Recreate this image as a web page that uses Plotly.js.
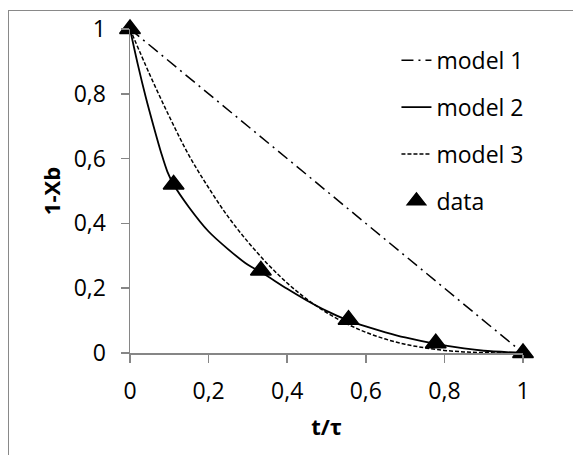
<!DOCTYPE html>
<html><head><meta charset="utf-8">
<script src="https://cdn.plot.ly/plotly-3.0.1.min.js"></script>
<style>
html,body{margin:0;padding:0;overflow:hidden;background:#fff;}
#wrap{position:relative;width:573px;height:455px;overflow:hidden;}
#chart{position:absolute;left:0;top:0;width:573px;height:455px;}
#frame{position:absolute;left:8px;top:10px;width:700px;height:600px;border:1.5px solid #898989;pointer-events:none;}
</style></head>
<body>
<div id="wrap"><div id="chart"></div><div id="frame"></div></div>
<script>
// Model 1 (linear)
const m1X = [0, 1];
const m1Y = [1, 0];
// Model 2 (solid curve)
const m2X = [0, 0.02, 0.04, 0.06, 0.08, 0.095, 0.111, 0.15, 0.2, 0.25, 0.3, 0.333, 0.4, 0.45, 0.5, 0.556, 0.6, 0.65, 0.7, 0.778, 0.85, 0.9, 1];
const m2Y = [1, 0.89, 0.79, 0.70, 0.615, 0.56, 0.52, 0.45, 0.375, 0.32, 0.272, 0.25, 0.198, 0.162, 0.13, 0.1, 0.082, 0.064, 0.048, 0.028, 0.014, 0.007, 0];
// Model 3 (dashed curve)
const m3X = [0, 0.05, 0.1, 0.15, 0.2, 0.25, 0.3, 0.35, 0.4, 0.45, 0.5, 0.55, 0.6, 0.65, 0.7, 0.75, 0.8, 0.85, 0.9, 0.95, 1];
const m3Y = [1, 0.86, 0.73, 0.61, 0.51, 0.42, 0.343, 0.275, 0.216, 0.166, 0.125, 0.091, 0.064, 0.043, 0.027, 0.016, 0.008, 0.0034, 0.001, 0.0001, 0];
// Experimental data
const dataX = [0, 0.111, 0.333, 0.556, 0.778, 1];
const dataY = [1, 0.52, 0.255, 0.103, 0.03, 0];
// Tick labels
const tickVals = [0, 0.2, 0.4, 0.6, 0.8, 1];
const tickText = ['0', '0,2', '0,4', '0,6', '0,8', '1'];

const FONT = '"Open Sans", Lato, sans-serif';
const traces = [
  {x: m1X, y: m1Y, mode: 'lines', name: 'model 1', legendgroup: 'a',
   line: {color: '#000', width: 1.5, dash: '12px,5px,2px,5px'}},
  {x: m2X, y: m2Y, mode: 'lines', name: 'model 2', legendgroup: 'b',
   line: {color: '#000', width: 1.8, shape: 'spline', smoothing: 0.8}},
  {x: m3X, y: m3Y, mode: 'lines', name: 'model 3', legendgroup: 'c',
   line: {color: '#000', width: 1.5, dash: '4px,2px', shape: 'spline'}},
  {x: dataX, y: dataY, mode: 'markers', name: 'data', legendgroup: 'd', cliponaxis: false,
   marker: {symbol: 'triangle-up', size: 18, color: '#000', line: {color: '#000', width: 1.5}}}
];
const axisCommon = {
  range: [0, 1], tickvals: tickVals, ticktext: tickText,
  showgrid: false, zeroline: false, showline: true, linecolor: '#868686', linewidth: 1.5,
  ticks: 'outside', ticklen: 8, tickwidth: 1.5, tickcolor: '#868686',
  tickfont: {family: FONT, size: 23, color: '#000'}, fixedrange: true
};
const layout = {
  width: 573, height: 455,
  margin: {l: 130, r: 50, t: 29, b: 102},
  paper_bgcolor: '#fff', plot_bgcolor: '#fff',
  separators: ', ',
  showlegend: true,
  legend: {x: 0.678, y: 0.97, xanchor: 'left', yanchor: 'top', traceorder: 'grouped', tracegroupgap: 14,
           font: {family: FONT, size: 23, color: '#000'}, bgcolor: 'rgba(0,0,0,0)'},
  xaxis: Object.assign({}, axisCommon, {
    ticklabelstandoff: 9,
    title: {text: '<b>t/τ</b>', font: {family: FONT, size: 22, color: '#000'}, standoff: 14}
  }),
  yaxis: Object.assign({}, axisCommon, {
    ticklabelstandoff: 10,
    title: {text: '<b>1-Xb</b>', font: {family: FONT, size: 22, color: '#000'}, standoff: 7}
  })
};
Plotly.newPlot('chart', traces, layout, {staticPlot: true, displayModeBar: false});
</script>
</body></html>
